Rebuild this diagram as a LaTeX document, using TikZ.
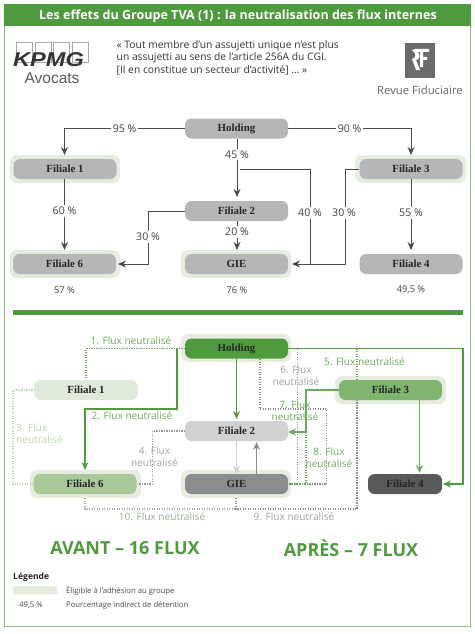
\documentclass[tikz,border=0pt]{standalone}
\usepackage{fontspec}
\setmainfont{Open Sans}
\newfontfamily\serifb{Liberation Serif}
\newfontfamily\logofont{Liberation Sans}
\usetikzlibrary{arrows.meta}
\definecolor{gr}{HTML}{4F9A3F}
\definecolor{frameg}{HTML}{8DBB80}
\definecolor{halo}{HTML}{E6EDE0}
\definecolor{gbox}{HTML}{B5B6B8}
\definecolor{lab1}{HTML}{6FA860}
\definecolor{lab3}{HTML}{BFD6B5}
\definecolor{lab4}{HTML}{A0A2A4}
\definecolor{cF1}{HTML}{DFEADB}
\definecolor{cF6}{HTML}{A9C99B}
\definecolor{cF2}{HTML}{D0D1D3}
\definecolor{cG}{HTML}{8A8C8E}
\definecolor{cF3}{HTML}{7FB570}
\definecolor{cF4}{HTML}{58595B}
\tikzset{
 x=1pt,y=-1pt,
 box/.style={rounded corners=6.5pt,minimum width=103pt,minimum height=20pt,inner sep=0pt,font=\serifb\bfseries\fontsize{10.9}{12}\selectfont,text=black!85},
 hl/.style={fill=halo,rounded corners=7pt},
 conn/.style={draw=black!70,line width=.8pt},
 arr/.style={-{Stealth[length=8pt,width=7pt]}},
 pct/.style={fill=white,inner sep=2pt,font=\fontsize{10.6}{12}\selectfont,text=black!75},
 plain/.style={inner sep=0pt,font=\fontsize{9.3}{11}\selectfont,text=black!75},
 fl/.style={inner sep=0pt,align=center,font=\fontsize{10.1}{12.2}\selectfont},
 dot/.style={line width=1.25pt,dash pattern=on 1.25pt off 1.25pt},
 sg/.style={draw=gr,line width=1.3pt},
}
\begin{document}
\begin{tikzpicture}
\useasboundingbox (0,0) rectangle (474,634);
\fill[white] (0,0) rectangle (474,634);
% frame and header
\draw[frameg,line width=.9pt] (4.5,4.5) rectangle (470,626);
\fill[gr] (4,4) rectangle (470.5,26);
\node[inner sep=0pt,text=white,font=\bfseries\fontsize{12.55}{14}\selectfont] (titre) at (238,16) {Les effets du Groupe TVA (1) : la neutralisation des flux internes};
% KPMG logo
\foreach \x in {16.5,35,53.5,72}{\draw[black!35,line width=.7pt] (\x,42.5) rectangle (\x+16,62);}
\node[inner sep=0pt,xscale=1.18,font=\logofont\bfseries\itshape\fontsize{20}{22}\selectfont,text=black!80] (kpmg) at (48.5,59.5) {KPMG};
\node[inner sep=0pt,font=\logofont\fontsize{15.5}{17}\selectfont,text=black!65] (avocats) at (52,78) {Avocats};
% citation
\node[inner sep=0pt,anchor=north west,align=left,font=\fontsize{10.3}{12.8}\selectfont,text=black!80] (cit) at (116.5,40) {« Tout membre d’un assujetti unique n’est plus\\un assujetti au sens de l’article 256A du CGI.\\{[}Il en constitue un secteur d’activité{]} … »};
% Revue Fiduciaire logo
\fill[black!58] (405,43) rectangle (435,78);
\fill[white] (415,49) -- (429,49) -- (429,52) -- (423,52) -- (423,57) -- (427,57) -- (427,60) -- (423,60) -- (423,67) -- (420,67) -- (420,52) -- (418,52) .. controls (421,56) and (419,60) .. (416,60) -- (420,70) -- (416,70) -- (412,59) .. controls (416,58) and (417,54) .. (412,50) -- cycle;
\node[inner sep=0pt,font=\fontsize{11.3}{13}\selectfont,text=black!60] (rf) at (420,90) {Revue Fiduciaire};
% ---- top diagram
\fill[hl] (10,155) rectangle (120,183);
\fill[hl] (10,250) rectangle (120,278);
\fill[hl] (181,250) rectangle (291,278);
\fill[hl] (355,155) rectangle (466,183);
\node[box,fill=gbox] (h) at (236.5,128.5) {Holding};
\node[box,fill=gbox] (f1) at (65,169) {Filiale 1};
\node[box,fill=gbox] (f6) at (64.5,264) {Filiale 6};
\node[box,fill=gbox] (f2) at (236.5,211) {Filiale 2};
\node[box,fill=gbox] (g) at (236.5,264) {GIE};
\node[box,fill=gbox] (f3) at (411,169) {Filiale 3};
\node[box,fill=gbox] (f4) at (411,264) {Filiale 4};
\coordinate (f1t) at (64.5,155);
\coordinate (f3t) at (411,155);
\coordinate (f6b) at (64.5,250);
\coordinate (f4t) at (411,250);
\coordinate (gt) at (237,250);
\coordinate (gr1) at (292,264);
\coordinate (f6r) at (118,264);
\coordinate (f2t) at (237,197);
\draw[conn,arr] (h.west) -| (f1t) node[pos=.25,pct] {95 \%};
\draw[conn,arr] (h.east) -| (f3t) node[pos=.25,pct] {90 \%};
\draw[conn,arr] (h.south -| f2t) -- (f2t) node[pos=.27,pct] {45 \%};
\draw[conn,arr] (f2.south -| gt) -- (gt) node[pos=.38,pct] {20 \%};
\draw[conn,arr] (f1.south -| f1t) -- (f6b) node[pos=.45,pct] {60 \%};
\draw[conn,arr] (f2.west) -| (148,264) -- (f6r);
\node[pct] (l30a) at (148,237) {30 \%};
\draw[conn,arr] (240,169.5) -| (310,264) -- (gr1);
\node[pct] (l40) at (310,213) {40 \%};
\draw[conn] (f3.west) -| (345,264) -- (310,264);
\node[pct] (l30b) at (344,213) {30 \%};
\draw[conn,arr] (f3.south -| f3t) -- (f4t) node[pos=.48,pct] {55 \%};
\node[plain] (p57) at (64.5,290) {57 \%};
\node[plain] (p76) at (237,290) {76 \%};
\node[plain] (p49) at (411,290) {49,5 \%};
% separator
\fill[gr] (13,310) rectangle (463,315);
% ---- bottom diagram
\fill[hl] (181,334) rectangle (291,362);
\fill[hl] (30,470) rectangle (141,498);
\fill[hl] (181,470) rectangle (291,498);
\fill[hl] (335,376) rectangle (446,404);
% dotted lines behind nodes
\draw[dot,draw=black!45] (260,359) -- (260,409) -- (326.5,409) -- (326.5,484) -- (288,484);
\draw[dot,draw=black!45] (297.5,349) -- (297.5,484) -- (288,484);
\draw[dot,draw=black!45] (236,498) -- (236,509) -- (357,509) -- (357,380);
\draw[dot,draw=lab1] (357,348.5) -- (357,380);
\draw[dot,draw=lab1] (185,348.5) -- (86,348.5) -- (86,380);
\draw[dot,draw=lab3] (35,390) -- (13,390) -- (13,484) -- (33,484);
\draw[dot,draw=black!40] (185,431) -- (152.5,431) -- (152.5,484) -- (138,484);
\draw[dot,draw=black!35] (85,498) -- (85,509) -- (237,509);
\draw[dot,draw=lab1] (339,390) -- (306,390) -- (306,484) -- (288,484);
\node[box,fill=gr] (H) at (236.5,348.5) {Holding};
\node[box,fill=cF1] (F1) at (86,390) {Filiale 1};
\node[box,fill=cF6] (F6) at (85,484) {Filiale 6};
\node[box,fill=cF2] (F2) at (236.5,431) {Filiale 2};
\node[box,fill=cG] (G) at (236.5,484) {GIE};
\node[box,fill=cF3] (F3) at (390.5,390) {Filiale 3};
\node[box,fill=cF4,minimum width=74pt] (F4) at (405,484) {Filiale 4};
\coordinate (c6t) at (85,470);
\coordinate (c2t) at (236.5,419);
\coordinate (c4t) at (419.5,473);
\coordinate (c4r) at (443,484);
\coordinate (c2r) at (288,432);
\draw[sg,arr] (177,348.5) -- (177,409) -- (85,409) -- (c6t);
\draw[sg,arr] (H.south) -- (c2t);
\draw[sg,arr] (H.east) -| (463,484) -- (c4r);
\draw[draw=lab1,line width=1.1pt,arr] (F3.west) -- (306,390) -- (306,432) -- (c2r);
\draw[draw=lab1,line width=1.1pt,arr] (419.5,400) -- (c4t);
\draw[draw=black!18,line width=1.3pt,arr] (F2.south) -- (G.north);
\draw[draw=black!45,line width=1.3pt,arr] (256.5,474) -- (256.5,442);
\node[fl,text=lab1] (n1) at (131,341) {1. Flux neutralisé};
\node[fl,text=lab1] (n2) at (132,415.5) {2. Flux neutralisé};
\node[fl,text=lab3,align=left,anchor=west] (n3) at (16,434) {3. Flux\\neutralisé};
\node[fl,text=lab4] (n4) at (154.5,457) {4. Flux\\neutralisé};
\node[fl,text=lab1] (n5) at (364.5,362) {5. Flux neutralisé};
\node[fl,text=lab4] (n6) at (296,375.5) {6. Flux\\neutralisé};
\node[fl,text=lab1] (n7) at (295,410.5) {7. Flux\\neutralisé};
\node[fl,text=lab1] (n8) at (329,458) {8. Flux\\neutralisé};
\node[fl,text=lab3!80!black] (n10) at (162,517) {10. Flux neutralisé};
\node[fl,text=lab4] (n9) at (294,517) {9. Flux neutralisé};
% bottom titles
\node[inner sep=0pt,text=gr,font=\bfseries\fontsize{18}{20}\selectfont] (av) at (125,548) {AVANT – 16 FLUX};
\node[inner sep=0pt,text=gr,font=\bfseries\fontsize{18}{20}\selectfont] (ap) at (351,548) {APRÈS – 7 FLUX};
% legend
\node[inner sep=0pt,anchor=west,font=\bfseries\fontsize{8.6}{10}\selectfont,text=black!85] (lg) at (13,577) {Légende};
\fill[halo] (13,585.5) rectangle (57,594);
\node[inner sep=0pt,anchor=west,font=\fontsize{7.7}{9}\selectfont,text=black!70] (l1) at (66,591) {Éligible à l’adhésion au groupe};
\node[inner sep=0pt,font=\fontsize{7.7}{9}\selectfont,text=black!70] (l2) at (31,605) {49,5 \%};
\node[inner sep=0pt,anchor=west,font=\fontsize{7.7}{9}\selectfont,text=black!70] (l3) at (66,605) {Pourcentage indirect de détention};
\end{tikzpicture}
\end{document}
